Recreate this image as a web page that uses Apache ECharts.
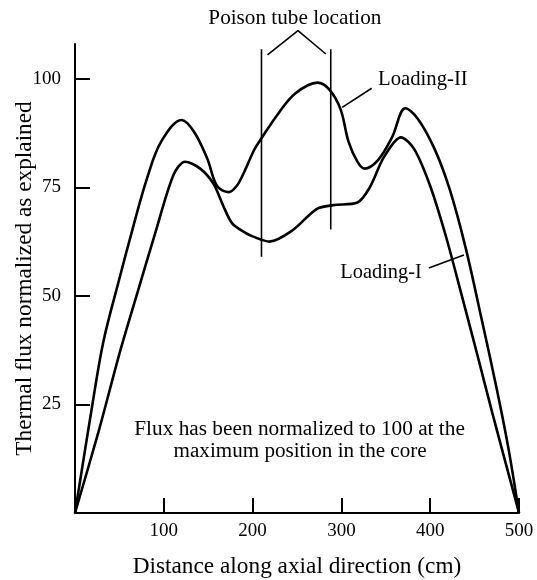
<!DOCTYPE html>
<html><head><meta charset="utf-8">
<script src="https://cdn.jsdelivr.net/npm/echarts@6/dist/echarts.min.js"></script>
<style>html,body{margin:0;padding:0;background:#fff}#c{width:537px;height:580px}</style>
</head><body><div id="c"></div>
<script>
// Loading-I curve (distance along axial direction in cm, normalized thermal flux)
const loadingIx = [0, 27, 51, 71, 91, 111, 124, 141, 156, 167, 177, 192, 200, 219, 245, 272, 291, 318, 332, 348, 367, 382, 400, 418, 435, 453, 470, 485, 500];
const loadingIy = [0, 19.1, 37.4, 51.2, 64.9, 77.9, 80.9, 79.3, 75.8, 70.7, 66.7, 64.5, 63.7, 62.5, 65.1, 70, 70.9, 71.5, 75, 82, 86.5, 83.8, 75.3, 63.5, 50.5, 36.5, 23, 11.5, 0];
// Loading-II curve
const loadingIIx = [0, 20, 32, 49, 65, 81, 97, 120, 134, 149, 160, 173, 182, 190, 202, 210, 229, 248, 273, 286, 299, 308, 318, 326, 341, 357, 372, 386, 405, 422, 440, 457, 475, 488, 500];
const loadingIIy = [0, 25.5, 39.5, 53.2, 65.5, 77, 85.5, 90.5, 87.8, 81.6, 75.3, 73.9, 75.3, 78.3, 83.7, 86.3, 92, 96.6, 99.1, 97.6, 93, 85.5, 80.9, 79.3, 81.2, 86.5, 93.2, 90.8, 83.8, 74.5, 61, 45.5, 28.5, 15, 0];
// Tick labels
const xTicks = [100, 200, 300, 400, 500];
const yTicks = [25, 50, 75, 100];
// Poison tube location markers and leader lines (data coordinates)
const poisonLeft = [[210, 59], [210, 106.8]];
const poisonRight = [[288, 65.3], [288, 106.8]];
const bracket = [[216.8, 105.5], [251.1, 111.1], [282.5, 105.7]];
const leaderII = [[334.1, 97.8], [300.9, 93.4]];
const leaderI = [[398.4, 56.4], [438, 59.4]];
// Text annotations: [text, anchor x, anchor y]
const titleText = ['Poison tube location', 247.6, 114];
const labelII = ['Loading-II', 341.3, 99.9];
const labelI = ['Loading-I', 298.7, 55.4];
const note1 = ['Flux has been normalized to 100 at the', 252.9, 19.2];
const note2 = ['maximum position in the core', 253.5, 14.1];
const xName = 'Distance along axial direction (cm)';
const yName = 'Thermal flux normalized as explained';

const F = 'Liberation Serif';
const mctx = document.createElement('canvas').getContext('2d');
function fit(text, target) {
  mctx.font = '20px "' + F + '"';
  return Math.round(20 * target / mctx.measureText(text).width * 10) / 10;
}
const zip = (xs, ys) => xs.map((x, i) => [x, ys[i]]);
const chart = echarts.init(document.getElementById('c'), null, {renderer: 'canvas'});

const annot = (data, w) => ({
  type: 'line', data: data, symbol: 'none', clip: false, silent: true,
  lineStyle: {color: '#000', width: w}, z: 3
});

chart.setOption({
  animation: false,
  backgroundColor: '#fff',
  grid: {left: 75, right: 18, top: 44, bottom: 67, containLabel: false, outerBoundsMode: 'none'},
  xAxis: {
    type: 'value', min: 0, max: 500, interval: 100,
    name: xName, nameLocation: 'middle', nameGap: 42, nameMoveOverlap: false,
    nameTextStyle: {fontFamily: F, fontSize: fit(xName, 329), color: '#000'},
    axisLine: {lineStyle: {color: '#000', width: 2}},
    axisTick: {inside: true, length: 15, customValues: xTicks, lineStyle: {color: '#000', width: 2}},
    axisLabel: {customValues: xTicks, fontFamily: F, fontSize: 19, color: '#000', margin: 9},
    splitLine: {show: false}
  },
  yAxis: {
    type: 'value', min: 0, max: 108, interval: 25,
    name: yName, nameLocation: 'middle', nameGap: 39, nameRotate: 90, nameMoveOverlap: false,
    nameTextStyle: {fontFamily: F, fontSize: fit(yName, 355), color: '#000'},
    axisLine: {lineStyle: {color: '#000', width: 2}},
    axisTick: {inside: true, length: 15, customValues: yTicks, lineStyle: {color: '#000', width: 2}},
    axisLabel: {customValues: yTicks, fontFamily: F, fontSize: 19, color: '#000', margin: 14},
    splitLine: {show: false}
  },
  series: [
    {name: 'Loading-I', type: 'line', data: zip(loadingIx, loadingIy), smooth: 0.3, symbol: 'none',
     lineStyle: {color: '#000', width: 2.6}, z: 4},
    {name: 'Loading-II', type: 'line', data: zip(loadingIIx, loadingIIy), smooth: 0.35, symbol: 'none',
     lineStyle: {color: '#000', width: 2.6}, z: 4},
    annot(poisonLeft, 1.6),
    annot(poisonRight, 1.6),
    annot(bracket, 1.6),
    annot(leaderII, 1.6),
    annot(leaderI, 1.6)
  ]
});

function txt(item, align, target) {
  const p = chart.convertToPixel({gridIndex: 0}, [item[1], item[2]]);
  return {type: 'text', silent: true, style: {
    x: p[0], y: p[1], text: item[0], textAlign: align, textVerticalAlign: 'middle',
    font: fit(item[0], target) + 'px "' + F + '"', fill: '#000'}};
}
chart.setOption({graphic: [
  txt(titleText, 'center', 173),
  txt(labelII, 'left', 89.7),
  txt(labelI, 'left', 81.7),
  txt(note1, 'center', 330.5),
  txt(note2, 'center', 253.4)
]});
</script></body></html>
